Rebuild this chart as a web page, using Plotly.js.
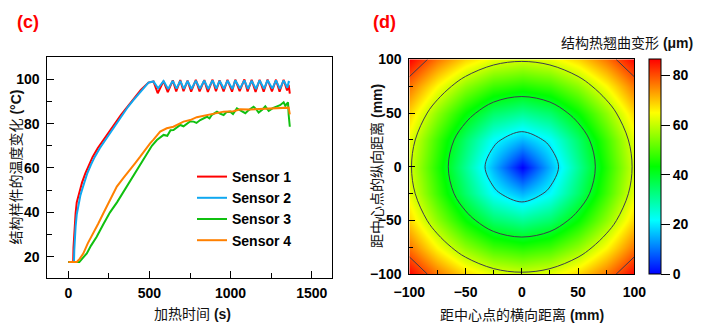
<!DOCTYPE html>
<html><head><meta charset="utf-8">
<script src="https://cdn.plot.ly/plotly-3.0.1.min.js"></script>
<style>html,body{margin:0;padding:0;background:#fff}#chart{width:709px;height:333px}</style>
</head><body><div id="chart"></div>
<script>
// ---- Panel (c): temperature change vs heating time ----
const s1Time = [0,30,32,35,39,45,52,62,72,85,105,125,150,182,216,250,290,325,364,400,447,494,525,551,587,613,644,665,690,710,735,757,786,809,838,860,889,910,932,957,981,1009,1029,1056,1085,1105,1130,1154,1179,1204,1228,1255,1280,1302,1327,1348,1358,1365];
const s1Temp = [17.6,17.6,24,29,33.5,39.5,44.5,47.5,50,53.5,57.6,61,65,69,72.6,76.5,80.2,84,87.6,91,95.2,98.5,99.0,93.7,99.2,94.2,99.5,94.5,99.6,94.6,99.4,94.4,99.7,94.5,99.6,94.3,99.8,94.6,99.5,94.5,99.7,94.4,99.8,94.6,99.9,94.5,99.7,94.3,99.8,94.4,99.9,94.5,99.8,94.4,99.8,95.0,97.5,93.5];

const s2Time = [0,35,37,40,45,52,64,74,84,100,117,140,163,195,228,260,299,330,368,400,450,494,525,553,587,615,644,667,690,712,735,759,786,811,838,862,889,912,932,959,981,1011,1029,1058,1085,1107,1130,1156,1179,1206,1228,1257,1280,1304,1327,1350,1358,1365];
const s2Temp = [17.6,17.6,23,28,33.5,39,44.5,47.5,50,54,57.6,61.5,65,69,72.6,76,80.2,83.5,87.6,90.5,95,98.5,99.0,95.9,99.2,95.6,99.3,95.8,99.3,95.7,99.2,95.6,99.4,95.7,99.4,95.6,99.5,95.8,99.3,95.7,99.4,95.6,99.5,95.8,99.5,95.7,99.4,95.6,99.5,95.7,99.6,95.8,99.5,95.7,99.5,96.2,98.8,98.6];

const s3Time = [0,68,90,114,140,175,215,257,300,340,380,422,455,484,515,546,570,587,610,630,648,670,690,710,731,750,772,790,813,835,854,870,885,900,916,935,957,975,998,1015,1039,1060,1091,1110,1142,1160,1173,1195,1214,1235,1260,1286,1305,1327,1337,1345,1354,1358,1365];
const s3Temp = [17.6,17.6,19.5,21.5,25,29,34.5,40,44.5,49.3,54,59.1,63,66.6,70,72.6,74,74.9,74.5,77,77.1,78.3,79.4,78.8,80,81,80.9,80.3,81.6,82.5,83.1,82.4,84,84.6,85.4,84.5,83.9,85.2,85.4,84.3,86.9,86.0,84.7,86.0,87.6,86.3,85.0,86.3,87.8,85.7,87.0,87.8,88.3,89.6,88.0,88.8,89.6,84.0,78.6];

const s4Time = [0,52,70,93,120,154,185,216,257,299,340,381,410,443,475,504,525,546,566,607,648,710,751,792,854,900,957,1018,1060,1120,1180,1240,1300,1340,1358,1365];
const s4Temp = [17.6,17.6,19,21.5,26,30.5,35,39.6,45.5,51.6,55.5,59.1,62,65.1,68.5,71.1,72.8,74.9,76.4,77.9,78.6,80.9,81.6,82.9,83.9,84.6,85.4,85.6,86.5,86.4,86.6,86.5,86.8,87.0,87.2,84.2];

const seriesNames = ['Sensor 1','Sensor 2','Sensor 3','Sensor 4'];
const timeTicks = [0,500,1000,1500];
const tempTicks = [20,40,60,80,100];

// ---- Panel (d): thermal warping deformation field (um) ----
const gridX = [-100,-75,-50,-25,0,25,50,75,100];
const gridY = [-100,-75,-50,-25,0,25,50,75,100];
const warp = [
  [86.5,76.5,68.4,63.1,61.2,63.1,68.4,76.5,86.5],
  [76.5,64.9,55.2,48.4,45.9,48.4,55.2,64.9,76.5],
  [68.4,55.2,43.3,34.2,30.6,34.2,43.3,55.2,68.4],
  [63.1,48.4,34.2,21.6,15.3,21.6,34.2,48.4,63.1],
  [61.2,45.9,30.6,15.3,0.0,15.3,30.6,45.9,61.2],
  [63.1,48.4,34.2,21.6,15.3,21.6,34.2,48.4,63.1],
  [68.4,55.2,43.3,34.2,30.6,34.2,43.3,55.2,68.4],
  [76.5,64.9,55.2,48.4,45.9,48.4,55.2,64.9,76.5],
  [86.5,76.5,68.4,63.1,61.2,63.1,68.4,76.5,86.5]
];
const distTicks = [-100,-50,0,50,100];
const warpTicks = [0,20,40,60,80];

const W = 709, H = 333;
const px = v => v / W;
const py = v => (H - v) / H;

const lineColors = ['#ff0000','#10a8f0','#10c010','#ff8000'];
const times = [s1Time,s2Time,s3Time,s4Time];
const temps = [s1Temp,s2Temp,s3Temp,s4Temp];

const tickFont = {family:'Liberation Sans, Arial, sans-serif', size:14, weight:'bold', color:'#000'};
const cjk = 'Liberation Sans, Noto Sans CJK SC, sans-serif';

const traces = seriesNames.map((n,i) => ({
  type:'scatter', mode:'lines', name:n, x:times[i], y:temps[i],
  xaxis:'x', yaxis:'y', line:{color:lineColors[i], width:2}
}));

traces.push({
  type:'heatmap', x:gridX, y:gridY, z:warp, xaxis:'x2', yaxis:'y2',
  zsmooth:'best', zmin:0, zmax:86.5, showlegend:false,
  colorscale:[[0,'rgb(0,0,255)'],[0.25,'rgb(0,255,255)'],[0.5,'rgb(0,255,0)'],[0.75,'rgb(255,255,0)'],[1,'rgb(255,0,0)']],
  colorbar:{
    x:px(649.3), xanchor:'left', xpad:0, y:py(274.3), yanchor:'bottom', ypad:0,
    len:215/H, lenmode:'fraction', thickness:12, thicknessmode:'pixels',
    outlinewidth:1, outlinecolor:'#000', ticks:'outside', ticklen:9, tickwidth:1, tickcolor:'#000',
    tickvals:warpTicks, tickfont:tickFont, ticklabelstandoff:5
  }
});
traces.push({
  type:'contour', x:gridX, y:gridY, z:warp, xaxis:'x2', yaxis:'y2',
  showscale:false, showlegend:false, hoverinfo:'skip',
  contours:{start:20, end:80, size:20, coloring:'none'},
  line:{color:'#3c3c4c', width:1}
});

const baseAxis = {
  showgrid:false, zeroline:false, showline:true, mirror:true, linecolor:'#000', linewidth:1,
  ticks:'inside', tickcolor:'#000', tickwidth:1, tickfont:tickFont
};

const layout = {
  width:W, height:H, margin:{l:0,r:0,t:0,b:0}, paper_bgcolor:'#fff', plot_bgcolor:'#fff',
  showlegend:true,
  xaxis: Object.assign({}, baseAxis, {domain:[px(47.3), px(332)], range:[-129.4,1625], anchor:'y',
    tickvals:timeTicks, ticklen:7, ticklabelstandoff:2,
    minor:{tickvals:[250,750,1250], ticks:'inside', ticklen:5, tickcolor:'#000', tickwidth:1}}),
  yaxis: Object.assign({}, baseAxis, {domain:[py(278), py(57.3)], range:[10.4,109.9], anchor:'x',
    tickvals:tempTicks, ticklen:7, ticklabelstandoff:4,
    minor:{tickvals:[30,50,70,90], ticks:'inside', ticklen:5, tickcolor:'#000', tickwidth:1}}),
  xaxis2: Object.assign({}, baseAxis, {domain:[px(409.3), px(634.3)], range:[-100,100], anchor:'y2',
    tickvals:distTicks, ticklen:6, ticklabelstandoff:5,
    minor:{tickvals:[-75,-25,25,75], ticks:'inside', ticklen:4, tickcolor:'#000', tickwidth:1}}),
  yaxis2: Object.assign({}, baseAxis, {domain:[py(274.3), py(59.3)], range:[-100,100], anchor:'x2',
    tickvals:distTicks, ticklen:6, ticklabelstandoff:4,
    minor:{tickvals:[-75,-25,25,75], ticks:'inside', ticklen:4, tickcolor:'#000', tickwidth:1}}),
  legend:{x:px(192), y:py(161), xanchor:'left', yanchor:'top', bgcolor:'rgba(0,0,0,0)',
    font:{family:'Liberation Sans, Arial, sans-serif', size:14, weight:'bold', color:'#000'}, tracegroupgap:0},
  annotations:[
    {xref:'paper', yref:'paper', x:px(28.3), y:py(22.3), text:'<b>(c)</b>', showarrow:false,
     font:{family:'Liberation Sans, Arial, sans-serif', size:18, color:'#ff0000'}, xanchor:'center', yanchor:'middle'},
    {xref:'paper', yref:'paper', x:px(384), y:py(22.3), text:'<b>(d)</b>', showarrow:false,
     font:{family:'Liberation Sans, Arial, sans-serif', size:18, color:'#ff0000'}, xanchor:'center', yanchor:'middle'},
    {xref:'paper', yref:'paper', x:px(192.2), y:py(314), text:'加热时间 <b>(s)</b>', showarrow:false,
     font:{family:cjk, size:14, color:'#111'}, xanchor:'center', yanchor:'middle'},
    {xref:'paper', yref:'paper', x:px(15), y:py(167.5), text:'结构样件的温度变化 <b>(°C)</b>', showarrow:false, textangle:-90,
     font:{family:cjk, size:14, color:'#111'}, xanchor:'center', yanchor:'middle'},
    {xref:'paper', yref:'paper', x:px(521.7), y:py(315), text:'距中心点的横向距离 <b>(mm)</b>', showarrow:false,
     font:{family:cjk, size:14, color:'#111'}, xanchor:'center', yanchor:'middle'},
    {xref:'paper', yref:'paper', x:px(376.7), y:py(166.2), text:'距中心点的纵向距离 <b>(mm)</b>', showarrow:false, textangle:-90,
     font:{family:cjk, size:14, color:'#111'}, xanchor:'center', yanchor:'middle'},
    {xref:'paper', yref:'paper', x:px(695), y:py(43), text:'结构热翘曲变形 <b>(μm)</b>', showarrow:false,
     font:{family:cjk, size:14, color:'#111'}, xanchor:'right', yanchor:'middle'}
  ]
};

Plotly.newPlot('chart', traces, layout, {staticPlot:true, displayModeBar:false});
</script></body></html>
